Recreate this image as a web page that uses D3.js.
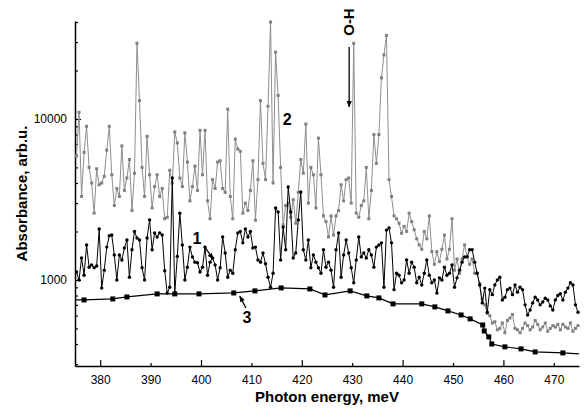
<!DOCTYPE html>
<html>
<head>
<meta charset="utf-8">
<script src="https://cdn.jsdelivr.net/npm/d3@7"></script>
<style>
  body { margin: 0; background: #fff; }
  text { font-family: "Liberation Sans", Arial, sans-serif; }
</style>
</head>
<body>
<script>
// data
// series 1 and 2 are sampled every 0.5 meV starting at 375.3 meV
const gridStart = 375.3;
const gridStep = 0.5;

// curve 2 (grey squares)
const curve2 = [
  5900,11000,3300,6200,9000,5000,4000,2600,4900,3900,
  4000,4400,6400,9000,4500,2900,3700,3300,6800,3600,
  4300,5600,2700,4600,29500,13000,5000,3300,7800,4500,
  2800,3800,4500,3300,3700,2400,2450,4800,4000,8300,
  7100,4300,3800,8200,5400,3100,3800,5100,3600,8500,
  4500,8500,3100,2400,4200,3700,5400,5500,3700,3500,
  11500,3300,2400,7500,6500,6300,2600,3000,2700,3600,
  5500,2350,4200,13000,5300,4200,12000,40000,4000,26000,
  14000,5000,2200,2900,3000,2450,3150,2250,3500,5600,
  4600,9300,3000,5000,4500,2800,7600,4500,2500,2300,
  1850,2500,1900,2500,2700,3900,3100,4200,4300,3000,
  29500,2600,2450,2900,3100,5000,2400,3600,8000,5300,
  8000,18000,25000,33000,4200,3300,2500,2400,2250,1950,
  2150,2000,2600,2300,2050,1800,1650,1550,2000,1800,
  2500,1500,1250,1500,1300,1550,1900,1350,1550,2400,
  1150,1350,1100,1350,1650,1400,1250,1350,1100,1100,
  950,760,700,620,600,540,550,490,500,540,
  470,560,580,610,500,490,470,500,540,520,
  490,510,560,530,490,510,540,480,500,520,
  510,530,490,530,510,500,540,480,500,520
];

// curve 1 (black dots)
const curve1 = [
  1120,1000,1370,1070,1650,1200,1240,1190,1220,2070,
  890,1150,1600,1880,1900,1430,1000,1430,1330,1580,
  1770,1040,1540,2000,1820,1770,1190,1000,1820,2360,
  1540,1960,1850,1960,1900,1140,830,900,4300,830,
  1400,2600,1650,1000,1200,1600,1390,1290,1280,1120,
  1200,1600,1070,1290,1370,1240,1000,1190,1850,1470,
  1040,1150,1100,1540,1960,2000,1700,2070,1850,2000,
  1580,1600,1330,1290,1470,1260,1040,900,1100,2800,
  2640,1330,2130,1540,3780,2640,1370,1470,2360,3520,
  1540,1330,1770,1190,1430,1290,1190,1100,1540,1200,
  1290,1150,900,1540,1960,1040,1430,1770,1470,1190,
  960,1330,1850,1390,1470,1370,1540,1430,1200,1600,
  1650,1700,900,2040,2100,1700,870,1100,1070,960,
  1000,1330,1100,1290,1200,960,1040,930,1100,1330,
  1070,960,1000,830,1030,1000,1200,1070,1100,1240,
  900,1030,1150,1290,1390,1390,1540,1540,1290,1100,
  930,720,890,630,870,810,930,1000,1040,750,
  780,870,890,810,930,840,900,870,700,606,
  650,720,780,750,700,730,770,750,690,650,
  750,800,820,750,840,890,960,930,700,630
];

// curve 3 (baseline, big squares); first and last entries are line ends only
const curve3Energy = [375.0, 376.8, 382.5, 385.3, 391.3, 394.8, 399.6, 406.5, 410.7, 415.9,
  421.6, 424.6, 429.6, 432.9, 435.3, 438.1, 443.8, 446.4, 449.0, 451.6,
  453.4, 455.9, 456.2, 457.1, 457.7, 460.3, 463.5, 466.3, 471.8, 475.0];
const curve3Value = [751, 751, 762, 784, 819, 819, 819, 830, 855, 892,
  879, 807, 855, 796, 773, 710, 710, 680, 642, 606,
  573, 525, 482, 443, 400, 384, 373, 357, 352, 347];

const xTicks = [380, 390, 400, 410, 420, 430, 440, 450, 460, 470];
const yTicks = [300, 400, 500, 600, 700, 800, 900, 1000,
  2000, 3000, 4000, 5000, 6000, 7000, 8000, 9000, 10000, 20000, 30000, 40000];
const yLabels = [1000, 10000];

// basic settings
const width = 584;
const height = 412;
const marginTop = 21;
const marginBottom = 46;
const marginLeft = 75;
const marginRight = 5;

const x = d3.scaleLinear()
  .domain([375, 475])
  .range([marginLeft, width - marginRight]);

const y = d3.scaleLog()
  .domain([292, 40600])
  .range([height - marginBottom, marginTop]);

const svg = d3.select('body')
  .append('svg')
  .attr('width', width)
  .attr('height', height);

const toPoints = vals => vals.map((v, i) => ({ e: gridStart + i * gridStep, v: v }));
const line = d3.line().x(d => x(d.e)).y(d => y(d.v));

renderAxes();
renderCurve2(toPoints(curve2));
renderCurve1(toPoints(curve1));
renderCurve3(curve3Energy.map((e, i) => ({ e: e, v: curve3Value[i] })));
renderNotes();

function renderAxes() {
  const xAxis = d3.axisBottom(x)
    .tickValues(xTicks)
    .tickSize(-3)
    .tickSizeOuter(0)
    .tickPadding(9)
    .tickFormat(d3.format('d'));

  const gx = svg.append('g')
    .attr('transform', 'translate(0,' + (height - marginBottom) + ')')
    .call(xAxis);
  gx.selectAll('.tick line').attr('y2', d => d % 20 === 0 ? -6 : -3);

  const yAxis = d3.axisLeft(y)
    .tickValues(yTicks)
    .tickSize(-3)
    .tickSizeOuter(0)
    .tickPadding(8)
    .tickFormat(d => yLabels.includes(d) ? d : '');

  const gy = svg.append('g')
    .attr('transform', 'translate(' + marginLeft + ',0)')
    .call(yAxis);
  gy.selectAll('.tick line').attr('x2', d => yLabels.includes(d) ? 6 : 3);

  svg.selectAll('.domain').attr('stroke-width', 1.5);
  svg.selectAll('.tick line').attr('stroke-width', 1.2);
  svg.selectAll('.tick text')
    .attr('font-size', 12)
    .attr('font-family', '"Liberation Sans", Arial, sans-serif')
    .attr('fill', '#000');

  svg.append('text')
    .attr('x', (marginLeft + width - marginRight) / 2)
    .attr('y', 397)
    .attr('dy', '0.35em')
    .attr('text-anchor', 'middle')
    .attr('font-size', 15)
    .attr('font-weight', 'bold')
    .text('Photon energy, meV');

  svg.append('text')
    .attr('transform', 'translate(22,' + (marginTop + height - marginBottom) / 2 + ') rotate(-90)')
    .attr('dy', '0.35em')
    .attr('text-anchor', 'middle')
    .attr('font-size', 15)
    .attr('font-weight', 'bold')
    .text('Absorbance, arb.u.');
}

function renderCurve2(points) {
  const g = svg.append('g');
  g.append('path')
    .datum(points)
    .attr('fill', 'none')
    .attr('stroke', '#8e8e8e')
    .attr('stroke-width', 1)
    .attr('d', line);
  g.selectAll('rect')
    .data(points)
    .enter()
    .append('rect')
    .attr('x', d => x(d.e) - 1.5)
    .attr('y', d => y(d.v) - 1.5)
    .attr('width', 3)
    .attr('height', 3)
    .attr('fill', '#808080');
}

function renderCurve1(points) {
  const g = svg.append('g');
  g.append('path')
    .datum(points)
    .attr('fill', 'none')
    .attr('stroke', '#000')
    .attr('stroke-width', 1)
    .attr('d', line);
  g.selectAll('circle')
    .data(points)
    .enter()
    .append('circle')
    .attr('cx', d => x(d.e))
    .attr('cy', d => y(d.v))
    .attr('r', 1.7)
    .attr('fill', '#000');
}

function renderCurve3(points) {
  const g = svg.append('g');
  g.append('path')
    .datum(points)
    .attr('fill', 'none')
    .attr('stroke', '#000')
    .attr('stroke-width', 1.2)
    .attr('d', line);
  g.selectAll('rect')
    .data(points.slice(1, -1))
    .enter()
    .append('rect')
    .attr('x', d => x(d.e) - 2.5)
    .attr('y', d => y(d.v) - 2.5)
    .attr('width', 5)
    .attr('height', 5)
    .attr('fill', '#000');
}

function renderNotes() {
  svg.append('defs')
    .append('marker')
    .attr('id', 'head')
    .attr('viewBox', '0 0 10 10')
    .attr('refX', 9)
    .attr('refY', 5)
    .attr('markerWidth', 5)
    .attr('markerHeight', 5)
    .attr('orient', 'auto')
    .append('path')
    .attr('d', 'M0,1L10,5L0,9Z')
    .attr('fill', '#000');

  // curve numbers: [energy, absorbance, label]
  const labels = [[417.1, 10000, '2'], [399.2, 1824, '1'], [409.1, 589, '3']];
  svg.selectAll('text.num')
    .data(labels)
    .enter()
    .append('text')
    .attr('class', 'num')
    .attr('x', d => x(d[0]))
    .attr('y', d => y(d[1]))
    .attr('dy', '0.35em')
    .attr('text-anchor', 'middle')
    .attr('font-size', 16)
    .attr('font-weight', 'bold')
    .text(d => d[2]);

  // arrows: [from energy, from value, to energy, to value]
  const arrows = [
    [400.6, 1626, 402.4, 1350],
    [408.9, 670, 407.7, 795],
    [429.4, 28000, 429.4, 11900]
  ];
  svg.selectAll('line.arrow')
    .data(arrows)
    .enter()
    .append('line')
    .attr('class', 'arrow')
    .attr('x1', d => x(d[0]))
    .attr('y1', d => y(d[1]))
    .attr('x2', d => x(d[2]))
    .attr('y2', d => y(d[3]))
    .attr('stroke', '#000')
    .attr('stroke-width', 1.3)
    .attr('marker-end', 'url(#head)');

  svg.append('text')
    .attr('transform', 'translate(' + x(429.3) + ',' + y(40000) + ') rotate(-90)')
    .attr('dy', '0.35em')
    .attr('text-anchor', 'middle')
    .attr('font-size', 15)
    .attr('font-weight', 'bold')
    .text('O-H');
}
</script>
</body>
</html>
